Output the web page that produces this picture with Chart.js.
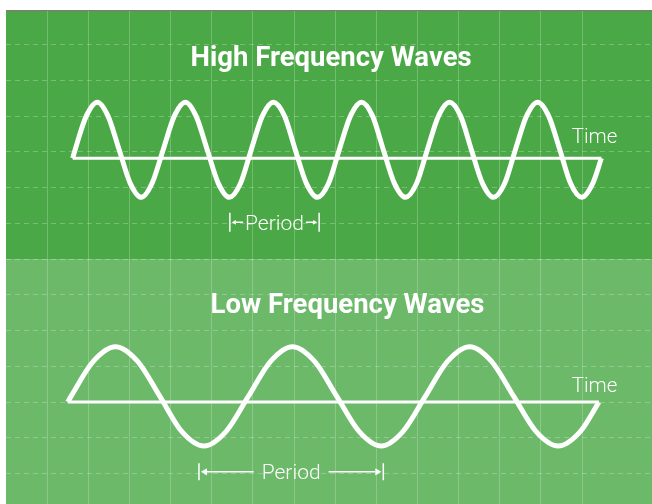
<!DOCTYPE html>
<html>
<head>
<meta charset="utf-8">
<script src="https://cdn.jsdelivr.net/npm/chart.js@4"></script>
<style>
  html, body { margin: 0; padding: 0; background: #fff; }
  #wrap { width: 652px; height: 504px; }
</style>
</head>
<body>
<div id="wrap"><canvas id="waves" width="652" height="504"></canvas></div>
<script>
// x = time in grid columns, y = level in grid rows (0 = panel boundary)
const highTime = [1.62, 1.68, 1.95, 2.22, 2.48, 2.75, 3.02, 3.29, 3.55, 3.82, 4.09, 4.36, 4.62,
  4.89, 5.16, 5.43, 5.70, 5.96, 6.23, 6.50, 6.77, 7.03, 7.30, 7.57, 7.84, 8.10, 8.37, 8.64,
  8.91, 9.17, 9.44, 9.71, 9.98, 10.24, 10.51, 10.78, 11.05, 11.31, 11.58, 11.85, 12.12,
  12.38, 12.65, 12.92, 13.19, 13.46, 13.72, 13.99, 14.26, 14.47];
const highLevel = [2.82,
  3.06, 4.00, 4.39, 4.00, 3.06, 2.12, 1.73, 2.12,
  3.06, 4.00, 4.39, 4.00, 3.06, 2.12, 1.73, 2.12,
  3.06, 4.00, 4.39, 4.00, 3.06, 2.12, 1.73, 2.12,
  3.06, 4.00, 4.39, 4.00, 3.06, 2.12, 1.73, 2.12,
  3.06, 4.00, 4.39, 4.00, 3.06, 2.12, 1.73, 2.12,
  3.06, 4.00, 4.39, 4.00, 3.06, 2.12, 1.73, 2.12,
  2.82];
const highBase = 2.82;

const lowTime = [1.50, 1.58, 2.12, 2.66, 3.20, 3.74, 4.27, 4.81, 5.35, 5.89, 6.43, 6.96, 7.50,
  8.04, 8.58, 9.12, 9.65, 10.19, 10.73, 11.27, 11.80, 12.34, 12.88, 13.42, 13.96, 14.41];
const lowLevel = [-4.00,
  -3.84, -2.86, -2.45, -2.86, -3.84, -4.82, -5.23, -4.82,
  -3.84, -2.86, -2.45, -2.86, -3.84, -4.82, -5.23, -4.82,
  -3.84, -2.86, -2.45, -2.86, -3.84, -4.82, -5.23, -4.82,
  -4.00];
const lowBase = -4.00;

// one period marked under each wave
const highPeriod = [5.44, 7.61];
const lowPeriod = [4.69, 9.17];

const highTitle = "High Frequency Waves";
const lowTitle = "Low Frequency Waves";
const axisLabel = "Time";
const periodLabel = "Period";

const toPoints = (xs, ys) => xs.map((v, i) => ({ x: v, y: ys[i] }));

const waveStyle = {
  borderColor: "#ffffff",
  borderWidth: 5,
  pointRadius: 0,
  fill: false,
  cubicInterpolationMode: "monotone",
  tension: 0.4,
};
const baseStyle = {
  borderColor: "#ffffff",
  borderWidth: 3,
  pointRadius: 0,
  fill: false,
};

const panels = {
  id: "panels",
  beforeDraw(chart) {
    const { ctx, chartArea: a, scales: { y } } = chart;
    const mid = y.getPixelForValue(0);
    ctx.save();
    ctx.fillStyle = "#4aa946";
    ctx.fillRect(a.left, a.top, a.right - a.left, mid - a.top);
    ctx.fillStyle = "#6db96a";
    ctx.fillRect(a.left, mid, a.right - a.left, a.bottom - mid);
    ctx.fillStyle = "#6a8b64";
    ctx.fillRect(a.left, a.top - 1, a.right - a.left, 2);
    ctx.restore();
  },
};

function drawPeriod(ctx, x0, x1, yp, barHalf, head, gap) {
  ctx.font = "300 21px Roboto";
  const w = ctx.measureText(periodLabel).width;
  const cx = (x0 + x1) / 2;
  ctx.textAlign = "center";
  ctx.textBaseline = "alphabetic";
  ctx.fillText(periodLabel, cx, yp + 7.5);
  ctx.lineWidth = 1.5;
  ctx.beginPath();
  ctx.moveTo(x0, yp - barHalf); ctx.lineTo(x0, yp + barHalf);
  ctx.moveTo(x1, yp - barHalf); ctx.lineTo(x1, yp + barHalf);
  ctx.moveTo(x0 + 2 + head, yp); ctx.lineTo(cx - w / 2 - gap, yp);
  ctx.moveTo(cx + w / 2 + gap, yp); ctx.lineTo(x1 - 2 - head, yp);
  ctx.stroke();
  ctx.beginPath();
  ctx.moveTo(x0 + 2, yp); ctx.lineTo(x0 + 2 + head, yp - head * 0.6); ctx.lineTo(x0 + 2 + head, yp + head * 0.6);
  ctx.closePath();
  ctx.moveTo(x1 - 2, yp); ctx.lineTo(x1 - 2 - head, yp - head * 0.6); ctx.lineTo(x1 - 2 - head, yp + head * 0.6);
  ctx.closePath();
  ctx.fill();
}

const labels = {
  id: "labels",
  afterDatasetsDraw(chart) {
    const { ctx, scales: { x, y } } = chart;
    ctx.save();
    ctx.fillStyle = "#ffffff";
    ctx.strokeStyle = "#ffffff";
    ctx.textBaseline = "alphabetic";

    ctx.textAlign = "center";
    ctx.font = "bold 27.5px Roboto";
    ctx.fillText(highTitle, x.getPixelForValue(7.90), y.getPixelForValue(5.40));
    ctx.fillText(lowTitle, x.getPixelForValue(8.30), y.getPixelForValue(-1.52));

    ctx.textAlign = "left";
    ctx.font = "300 20.5px Roboto";
    ctx.fillText(axisLabel, x.getPixelForValue(13.75), y.getPixelForValue(3.24));
    ctx.fillText(axisLabel, x.getPixelForValue(13.75), y.getPixelForValue(-3.71));

    drawPeriod(ctx, x.getPixelForValue(highPeriod[0]), x.getPixelForValue(highPeriod[1]),
      y.getPixelForValue(1.03), 9.5, 4, 2);
    drawPeriod(ctx, x.getPixelForValue(lowPeriod[0]), x.getPixelForValue(lowPeriod[1]),
      y.getPixelForValue(-5.95), 8.5, 6, 8);
    ctx.restore();
  },
};

const keepInner = (scale) => {
  scale.ticks = scale.ticks.filter(
    (t) => Number.isInteger(t.value) && t.value > scale.min && t.value < scale.max
  );
};

new Chart(document.getElementById("waves"), {
  type: "line",
  data: {
    datasets: [
      { ...baseStyle, data: [{ x: highTime[0], y: highBase }, { x: highTime[highTime.length - 1], y: highBase }] },
      { ...waveStyle, data: toPoints(highTime, highLevel) },
      { ...baseStyle, data: [{ x: lowTime[0], y: lowBase }, { x: lowTime[lowTime.length - 1], y: lowBase }] },
      { ...waveStyle, data: toPoints(lowTime, lowLevel) },
    ],
  },
  options: {
    responsive: false,
    animation: false,
    devicePixelRatio: 1,
    layout: { padding: { left: 6, top: 11, right: 0, bottom: 0 } },
    plugins: { legend: { display: false }, tooltip: { enabled: false } },
    scales: {
      x: {
        type: "linear",
        min: 0,
        max: 15.7,
        afterBuildTicks: keepInner,
        ticks: { display: false, stepSize: 1 },
        grid: { color: "rgba(255,255,255,0.22)", lineWidth: 1, drawTicks: false },
        border: { display: false },
      },
      y: {
        type: "linear",
        min: -6.85,
        max: 6.94,
        afterBuildTicks: keepInner,
        ticks: { display: false, stepSize: 1 },
        grid: { color: "rgba(255,255,255,0.25)", lineWidth: 1, drawTicks: false },
        border: { display: false, dash: [5, 4] },
      },
    },
  },
  plugins: [panels, labels],
});
</script>
</body>
</html>
